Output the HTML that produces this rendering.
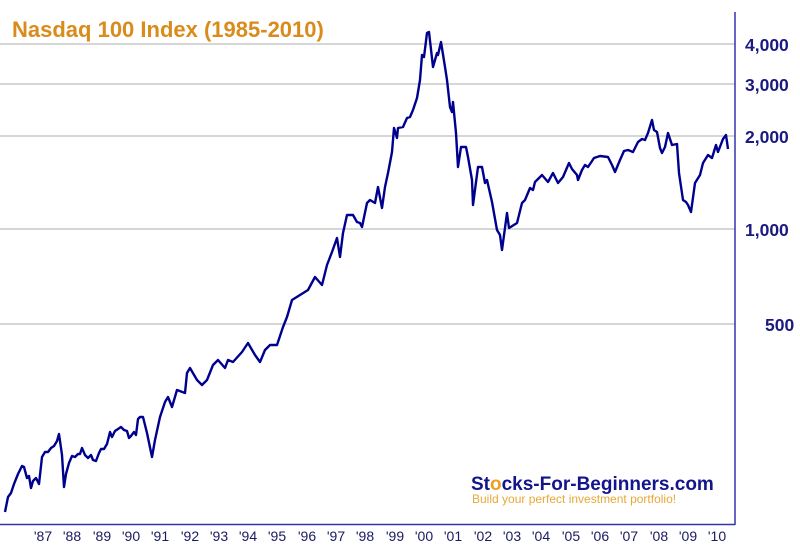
<!DOCTYPE html>
<html><head><meta charset="utf-8"><style>
html,body{margin:0;padding:0;background:#fff;}
svg{display:block;font-family:"Liberation Sans",Arial,sans-serif;}
</style></head><body>
<svg width="800" height="548" viewBox="0 0 800 548" xmlns="http://www.w3.org/2000/svg">
<rect width="800" height="548" fill="#fff"/>
<g stroke="#c8c8c8" stroke-width="1.5">
<line x1="0" y1="44" x2="735" y2="44"/>
<line x1="0" y1="84" x2="735" y2="84"/>
<line x1="0" y1="136" x2="735" y2="136"/>
<line x1="0" y1="229" x2="735" y2="229"/>
<line x1="0" y1="324" x2="735" y2="324"/>
</g>
<line x1="735" y1="12" x2="735" y2="525" stroke="#3333b0" stroke-width="1.5"/>
<line x1="0" y1="524.5" x2="735" y2="524.5" stroke="#3333b0" stroke-width="1.5"/>
<g fill="#1a1a80" font-weight="bold" font-size="17.5">
<text x="745" y="51">4,000</text>
<text x="745" y="91">3,000</text>
<text x="745" y="143">2,000</text>
<text x="745" y="236">1,000</text>
<text x="765" y="331">500</text>
</g>
<text x="12" y="37" fill="#d98b1c" font-weight="bold" font-size="22">Nasdaq 100 Index (1985-2010)</text>
<g fill="#1a1a60" font-size="14" text-anchor="middle">
<text x="43" y="541">'87</text><text x="72" y="541">'88</text><text x="102" y="541">'89</text><text x="131" y="541">'90</text><text x="160" y="541">'91</text><text x="190" y="541">'92</text><text x="219" y="541">'93</text><text x="248" y="541">'94</text><text x="277" y="541">'95</text><text x="307" y="541">'96</text><text x="336" y="541">'97</text><text x="365" y="541">'98</text><text x="395" y="541">'99</text><text x="424" y="541">'00</text><text x="453" y="541">'01</text><text x="483" y="541">'02</text><text x="512" y="541">'03</text><text x="541" y="541">'04</text><text x="571" y="541">'05</text><text x="600" y="541">'06</text><text x="629" y="541">'07</text><text x="659" y="541">'08</text><text x="688" y="541">'09</text><text x="717" y="541">'10</text>
</g>
<polyline fill="none" stroke="#00008f" stroke-width="2.4" stroke-linejoin="round" points="5,512 8,497 11,493 14,484 18,474 22,466 24,467 27,478 29,476 31,488 33,481 36,478 39,484 42,457 45,452 48,452 51,448 54,446 57,441 59,434 62,455 64,487 66,474 69,463 72,456 75,457 78,454 80,454 82,448 85,455 88,458 91,455 93,460 96,461 99,453 101,449 104,449 107,444 110,432 112,437 115,431 118,429 121,427 124,430 127,431 129,438 131,436 134,432 136,435 138,419 140,417 143,417 147,433 152,457 155,440 160,417 165,402 168,397 172,407 177,390 185,393 187,373 190,368 197,380 202,385 207,380 213,365 218,360 225,368 228,360 233,362 242,352 248,343 255,355 260,362 265,350 270,345 277,345 283,327 287,317 292,300 300,295 308,290 315,277 322,285 327,265 332,252 337,238 340,257 343,233 347,215 353,215 357,222 360,223 362,227 367,203 370,200 375,203 378,187 382,208 385,187 388,173 392,152 394,128 397,138 398,128 403,127 407,118 410,117 413,110 417,98 420,80 422,55 424,57 427,33 429,32 433,67 437,53 438,55 441,42 445,67 447,80 450,107 452,112 453,102 456,133 458,167 461,147 466,147 468,157 472,180 473,205 478,167 482,167 485,183 487,180 492,202 497,230 500,235 502,250 507,213 509,228 517,223 522,203 525,200 530,188 533,190 535,182 542,175 548,182 553,173 558,183 563,177 569,163 572,169 577,175 578,180 582,170 585,165 588,167 594,158 600,156 608,157 612,165 615,172 620,160 624,151 628,150 633,152 638,142 642,139 645,140 648,133 652,120 654,130 657,132 660,148 662,153 665,147 668,133 672,145 677,144 679,173 683,200 686,202 688,205 691,212 695,183 700,175 703,163 708,155 712,158 716,145 718,152 723,139 726,135 728,149"/>
<text x="471" y="490" fill="#14148c" font-weight="bold" font-size="19">St<tspan fill="#f0a020">o</tspan>cks-For-Beginners.com</text>
<text x="472" y="503" fill="#e8a838" font-size="12">Build your perfect investment portfolio!</text>
</svg>
</body></html>
